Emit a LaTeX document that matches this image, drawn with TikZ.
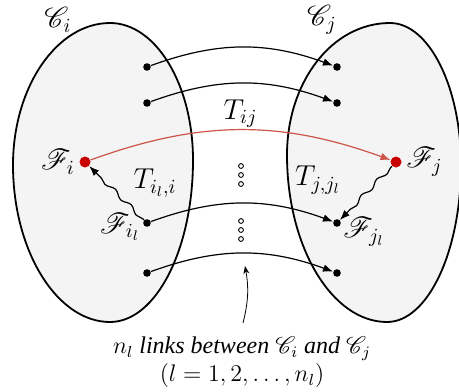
\documentclass[tikz,border=0pt]{standalone}
\usepackage{amsmath,amssymb,mathrsfs}
\usepackage{fontspec}
\setmainfont{Liberation Serif}
\usepackage{tikz}
\usetikzlibrary{positioning,arrows.meta,decorations.pathmorphing}
\definecolor{blobfill}{HTML}{F4F4F4}
\definecolor{hubred}{HTML}{C80000}
\definecolor{linkred}{HTML}{CC5548}

\begin{document}
\begin{tikzpicture}[x=0.5pt,y=-0.5pt,
  blob/.style={draw=black,line width=0.9pt,fill=blobfill},
  pt/.style={circle,fill=black,inner sep=0pt,minimum size=3.8pt},
  hub/.style={circle,fill=hubred,inner sep=0pt,minimum size=5.5pt},
  gap/.style={circle,draw=black,line width=0.45pt,inner sep=0pt,minimum size=2.4pt},
  link/.style={-{Latex[length=5pt,width=3.8pt]},semithick,bend left=20},
  wig/.style={-{Latex[length=5pt,width=3.8pt]},semithick,decorate,
              decoration={snake,amplitude=1pt,segment length=11pt,pre length=1pt,post length=5pt}},
  lbl/.style={font=\Large,inner sep=1pt}]
  \useasboundingbox (0,0) rectangle (459,391);
  % the two clusters
  \draw[blob] (110,23) .. controls (156,23) and (193,85) .. (193,160)
    .. controls (193,249) and (156,322) .. (110,322)
    .. controls (57,322) and (13,251) .. (13,165)
    .. controls (13,87) and (57,23) .. cycle;
  \draw[blob] (390,23) .. controls (429,23) and (461,87) .. (461,165)
    .. controls (461,251) and (428,322) .. (387,322)
    .. controls (332,322) and (287,247) .. (287,155)
    .. controls (287,82) and (332,23) .. cycle;
  \node[lbl] (ci) at (58,20) {$\mathscr{C}_i$};
  \node[lbl] (cj) at (322,20) {$\mathscr{C}_j$};
  % end points of the links
  \foreach \y [count=\k] in {67,103,223,273} {
    \node[pt] (a\k) at (147,\y) {};
    \node[pt] (b\k) at (337,\y) {};
  }
  \node[hub] (fi) at (85,162) {};
  \node[hub] (fj) at (396,162) {};
  \foreach \y [count=\k] in {166,175,184,221,230,239}
    \node[gap] (g\k) at (241,\y) {};
  % links
  \foreach \k in {1,...,4}
    \draw[link] (a\k) to (b\k);
  \draw[link,linkred] (fi) to node[above,lbl,black,pos=0.5] (tij) {$T_{ij}$} (fj);
  \draw[wig] (a3) -- (fi);
  \draw[wig] (fj) -- (b3);
  \node[lbl,left=1pt of fi] (fil) {$\mathscr{F}_i$};
  \node[lbl,right=1pt of fj] (fjl) {$\mathscr{F}_j$};
  \node[lbl] (til) at (155,183) {$T_{i_l,i}$};
  \node[lbl] (tjl) at (318,180) {$T_{j,j_l}$};
  \node[lbl] (fill) at (120,227) {$\mathscr{F}_{i_l}$};
  \node[lbl] (fjll) at (364,232) {$\mathscr{F}_{j_l}$};
  % caption
  \node[align=center,font=\large] (cap) at (242,362)
    {$n_l$ \textit{links between} $\mathscr{C}_i$ \textit{and} $\mathscr{C}_j$\\$(l=1,2,\ldots,n_l)$};
  \coordinate (tip) at (245,266);
  \draw[-{Stealth[length=4pt,width=3pt]},thin] (243,323) to[bend right=12] (tip);
\end{tikzpicture}
\end{document}
